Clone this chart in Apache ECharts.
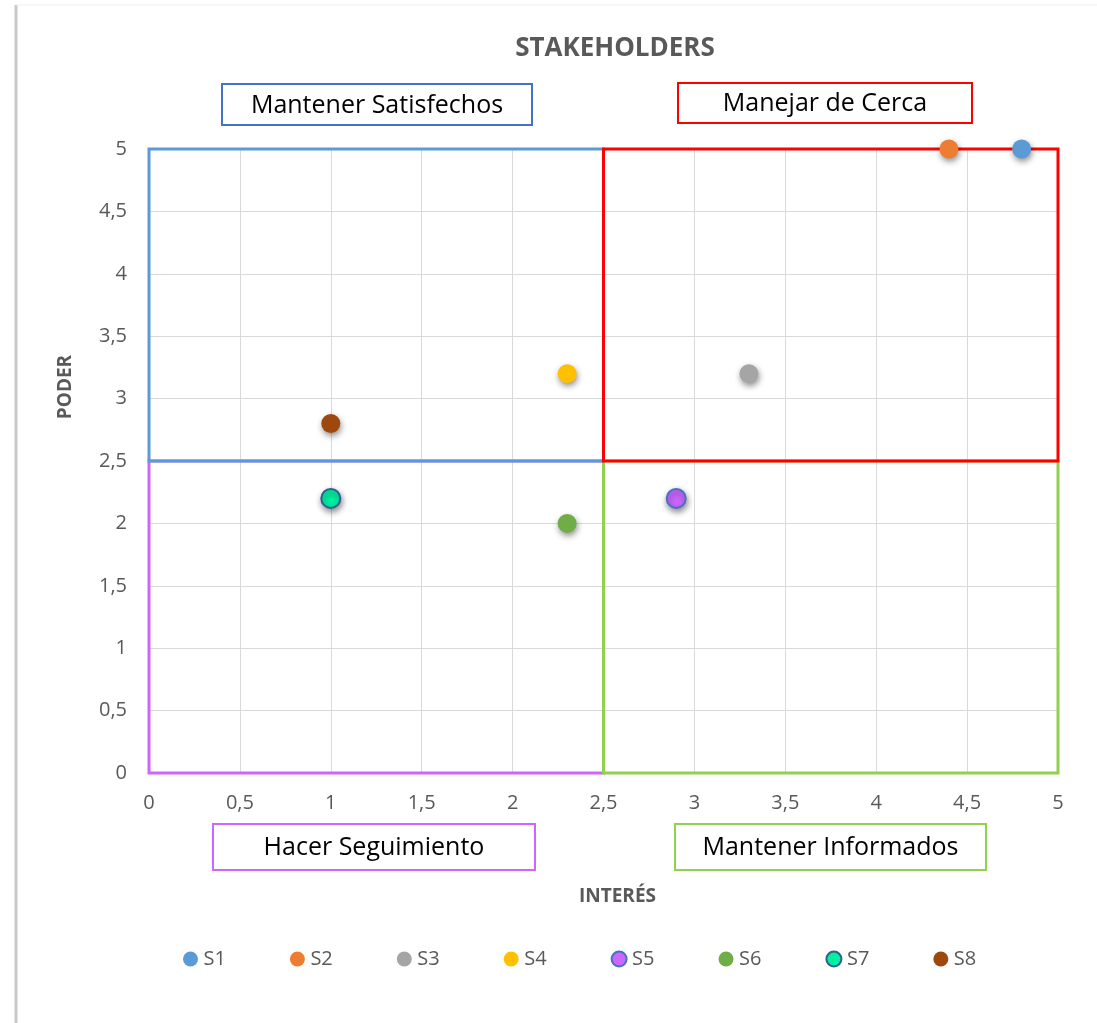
<!DOCTYPE html>
<html><head><meta charset="utf-8">
<script src="https://cdn.jsdelivr.net/npm/echarts@6/dist/echarts.min.js"></script>
<style>html,body{margin:0;padding:0;background:#fff}#c{width:1097px;height:1023px}</style>
</head><body><div id="c"></div>
<script>
// ---- data ----
const seriesNames = ['S1','S2','S3','S4','S5','S6','S7','S8'];
const interes = [4.8, 4.4, 3.3, 2.3, 2.9, 2.3, 1.0, 1.0];
const poder   = [5.0, 5.0, 3.2, 3.2, 2.2, 2.0, 2.2, 2.8];
const fillColors   = ['#5b9bd5','#ed7d31','#a5a5a5','#ffc000','#cc66ff','#70ad47','#00f0a0','#9e480e'];
const borderColors = ['#5b9bd5','#ed7d31','#a5a5a5','#ffc000','#4472c4','#70ad47','#2f5f93','#9e480e'];
const quadrantNames = ['Hacer Seguimiento','Mantener Informados','Mantener Satisfechos','Manejar de Cerca'];
const quadrantFrom  = [[0,0],[2.5,0],[0,2.5],[2.5,2.5]];
const quadrantTo    = [[2.5,2.5],[5,2.5],[2.5,5],[5,5]];
const quadrantColors = ['#cc66ff','#92d050','#5b9bd5','#ff0000'];
const labelBoxColors = ['#cc66ff','#92d050','#4472c4','#ff0000'];

const fmt = v => String(v).replace('.', ',');
const FONT = '"Open Sans", "Noto Sans", sans-serif';

const chart = echarts.init(document.getElementById('c'), null, {renderer:'canvas'});

const series = seriesNames.map((n,i)=>({
  name:n, type:'scatter', symbol:'circle', symbolSize:19,
  data:[[interes[i], poder[i]]],
  itemStyle:{color:fillColors[i], opacity:1, borderColor:borderColors[i], borderWidth: (i===4||i===6)?2:0,
    shadowBlur:6, shadowColor:'rgba(0,0,0,0.45)', shadowOffsetX:1, shadowOffsetY:3},
  z:5
}));
series.push({
  name:'quadrants', type:'scatter', data:[], silent:true,
  markArea:{silent:true,
    data: quadrantNames.map((q,i)=>[
      {coord:quadrantFrom[i], itemStyle:{color:'rgba(0,0,0,0)', borderColor:quadrantColors[i], borderWidth:3}},
      {coord:quadrantTo[i]}
    ])
  }
});

// label boxes (layout positions)
const boxPos = [
  {x:213,y:824,w:322,h:46},
  {x:675,y:824,w:311,h:46},
  {x:222,y:84,w:310,h:41},
  {x:678,y:83,w:294,h:40}
];
const graphics = [
  {type:'line', shape:{x1:16,y1:5,x2:16,y2:1023}, style:{stroke:'#c8c8c8', lineWidth:3}},
  {type:'line', shape:{x1:16,y1:5,x2:1097,y2:5}, style:{stroke:'#eeeeee', lineWidth:1}}
];
quadrantNames.forEach((q,i)=>{
  const b = boxPos[i];
  graphics.push({type:'rect', shape:{x:b.x,y:b.y,width:b.w,height:b.h},
    style:{fill:'#fff', stroke:labelBoxColors[i], lineWidth:2}, z:10});
  graphics.push({type:'text', x:b.x+b.w/2, y:b.y+b.h/2+1,
    style:{text:q, fill:'#000', font:'25px '+FONT, align:'center', verticalAlign:'middle'}, z:11});
});

chart.setOption({
  backgroundColor:'#fff',
  animation:false,
  title:{text:'STAKEHOLDERS', left:610, top:31, textAlign:'center',
    textStyle:{color:'#595959', fontSize:26, fontWeight:'bold', fontFamily:FONT}},
  legend:{data:seriesNames, top:944, left:178, icon:'circle', itemWidth:16, itemHeight:15, itemGap:64,
    textStyle:{color:'#595959', fontSize:20, fontFamily:FONT}},
  grid:{left:149, right:39, top:149, bottom:250, containLabel:false},
  xAxis:{type:'value', min:0, max:5, interval:0.5, name:'INTERÉS', nameLocation:'middle', nameGap:114,
    nameTextStyle:{color:'#595959', fontSize:19, fontWeight:'bold', fontFamily:FONT, padding:[0,0,0,28]},
    axisLine:{show:false}, axisTick:{show:false},
    axisLabel:{color:'#595959', fontSize:20, margin:20, fontFamily:FONT, formatter:fmt},
    splitLine:{show:true, lineStyle:{color:'#d9d9d9', width:1}}},
  yAxis:{type:'value', min:0, max:5, interval:0.5, name:'PODER', nameLocation:'middle', nameGap:74,
    nameTextStyle:{color:'#595959', fontSize:19, fontWeight:'bold', fontFamily:FONT, padding:[0,0,0,148]},
    axisLine:{show:false}, axisTick:{show:false},
    axisLabel:{color:'#595959', fontSize:20, margin:22, fontFamily:FONT, formatter:fmt},
    splitLine:{show:true, lineStyle:{color:'#d9d9d9', width:1}}},
  graphic:graphics,
  series:series
});
</script></body></html>
